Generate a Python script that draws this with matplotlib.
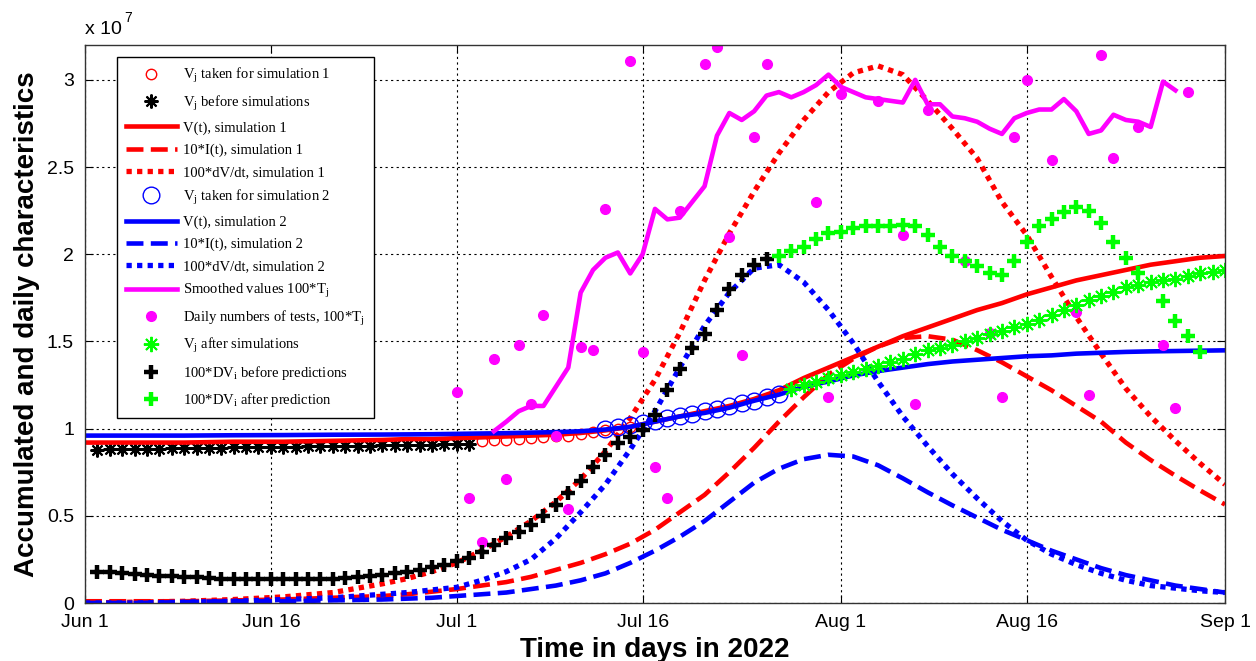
import matplotlib
matplotlib.use('Agg')
import matplotlib.pyplot as plt

plt.rcParams['mathtext.fontset'] = 'custom'
plt.rcParams['mathtext.rm'] = 'Liberation Serif'
plt.rcParams['mathtext.it'] = 'Liberation Serif:italic'
plt.rcParams['mathtext.bf'] = 'Liberation Serif:bold'

# ---------------- data (values in units of 1e7, x in days since Jun 1) --------------
tick_days = [0, 15, 30, 45, 61, 76, 92]
tick_labels = ['Jun 1', 'Jun 16', 'Jul 1', 'Jul 16', 'Aug 1', 'Aug 16', 'Sep 1']
y_ticks = [0, 0.5, 1, 1.5, 2, 2.5, 3]
y_tick_labels = ['0', '0.5', '1', '1.5', '2', '2.5', '3']

# V_j before simulations (black asterisks)
vb_days = list(range(1, 32))
vb_vals = [0.880, 0.881, 0.882, 0.883, 0.884, 0.886, 0.887, 0.888, 0.889, 0.890,
           0.891, 0.892, 0.893, 0.894, 0.895, 0.896, 0.897, 0.898, 0.899, 0.900,
           0.901, 0.902, 0.903, 0.904, 0.905, 0.906, 0.907, 0.908, 0.909, 0.910, 0.912]

# V_j taken for simulation 1 (red circles)
v1_days = list(range(32, 45))
v1_vals = [0.930, 0.935, 0.935, 0.940, 0.945, 0.950, 0.955, 0.960, 0.970, 0.980,
           0.990, 1.000, 1.010]

# V_j taken for simulation 2 (blue circles)
v2_days = list(range(42, 57))
v2_vals = [1.000, 1.010, 1.020, 1.030, 1.045, 1.060, 1.070, 1.085, 1.100, 1.115,
           1.130, 1.145, 1.160, 1.180, 1.200]

# V_j after simulations (green asterisks)
va_days = list(range(57, 93))
va_vals = [1.230, 1.250, 1.270, 1.290, 1.310, 1.325, 1.340, 1.360, 1.380, 1.400,
           1.430, 1.450, 1.465, 1.480, 1.500, 1.520, 1.540, 1.560, 1.580, 1.600,
           1.625, 1.650, 1.680, 1.710, 1.735, 1.760, 1.785, 1.810, 1.825, 1.840,
           1.850, 1.860, 1.875, 1.890, 1.900, 1.910]

# model curves
t_model = [0, 4, 8, 12, 16, 20, 24, 26, 28, 30, 32, 34, 36, 38, 40, 42, 44, 46, 48, 50,
           52, 54, 56, 58, 60, 62, 64, 66, 68, 70, 72, 74, 76, 78, 80, 82, 84, 86, 88, 90, 92]
V_sim1 = [0.920, 0.920, 0.920, 0.925, 0.925, 0.930, 0.935, 0.940, 0.940, 0.945,
          0.950, 0.955, 0.960, 0.965, 0.975, 0.990, 1.010, 1.040, 1.070, 1.100,
          1.130, 1.170, 1.220, 1.290, 1.350, 1.410, 1.470, 1.530, 1.580, 1.630,
          1.680, 1.720, 1.770, 1.810, 1.850, 1.880, 1.910, 1.940, 1.960, 1.980, 1.990]
I_sim1 = [0.010, 0.010, 0.010, 0.015, 0.020, 0.030, 0.040, 0.050, 0.065, 0.080,
          0.100, 0.120, 0.150, 0.190, 0.230, 0.280, 0.340, 0.420, 0.520, 0.620,
          0.750, 0.890, 1.040, 1.180, 1.310, 1.400, 1.470, 1.520, 1.530, 1.510,
          1.450, 1.380, 1.300, 1.220, 1.130, 1.040, 0.920, 0.820, 0.730, 0.645, 0.565]
dV_sim1 = [0.000, 0.005, 0.010, 0.020, 0.035, 0.060, 0.110, 0.140, 0.180, 0.230,
           0.300, 0.380, 0.470, 0.580, 0.710, 0.870, 1.060, 1.280, 1.550, 1.850,
           2.120, 2.360, 2.580, 2.770, 2.930, 3.040, 3.080, 3.030, 2.880, 2.720,
           2.550, 2.300, 2.110, 1.870, 1.640, 1.430, 1.230, 1.070, 0.930, 0.800, 0.680]
V_sim2 = [0.960, 0.960, 0.960, 0.962, 0.963, 0.965, 0.966, 0.967, 0.968, 0.970,
          0.972, 0.974, 0.977, 0.980, 0.985, 0.995, 1.010, 1.040, 1.070, 1.090,
          1.120, 1.160, 1.195, 1.240, 1.270, 1.305, 1.330, 1.350, 1.370, 1.385,
          1.395, 1.405, 1.415, 1.420, 1.430, 1.435, 1.440, 1.443, 1.445, 1.447, 1.449]
I_sim2 = [0.000, 0.000, 0.005, 0.010, 0.010, 0.015, 0.020, 0.025, 0.030, 0.040,
          0.050, 0.060, 0.080, 0.100, 0.130, 0.170, 0.230, 0.300, 0.380, 0.470,
          0.580, 0.690, 0.770, 0.825, 0.850, 0.840, 0.790, 0.715, 0.635, 0.560,
          0.490, 0.420, 0.360, 0.300, 0.250, 0.200, 0.160, 0.130, 0.100, 0.080, 0.060]
dV_sim2 = [0.000, 0.000, 0.005, 0.010, 0.020, 0.030, 0.050, 0.060, 0.075, 0.090,
           0.130, 0.180, 0.250, 0.370, 0.520, 0.680, 0.880, 1.100, 1.350, 1.590,
           1.780, 1.920, 1.940, 1.840, 1.680, 1.490, 1.270, 1.070, 0.900, 0.740,
           0.600, 0.470, 0.360, 0.280, 0.220, 0.170, 0.130, 0.100, 0.085, 0.070, 0.060]

# smoothed tests 100*T_j (magenta line)
ts_days = list(range(33, 89))
ts_vals = [0.985, 1.040, 1.100, 1.130, 1.130, 1.240, 1.350, 1.780, 1.910, 1.980,
           2.010, 1.890, 2.000, 2.260, 2.200, 2.210, 2.300, 2.390, 2.680, 2.810,
           2.770, 2.820, 2.910, 2.930, 2.900, 2.930, 2.970, 3.030, 2.960, 2.930,
           2.900, 2.890, 2.880, 2.870, 3.000, 2.860, 2.860, 2.790, 2.780, 2.760,
           2.720, 2.690, 2.780, 2.810, 2.830, 2.830, 2.890, 2.820, 2.690, 2.710,
           2.800, 2.770, 2.760, 2.730, 2.990, 2.940]

# daily numbers of tests 100*T_j (magenta dots)
td_days = [30, 31, 32, 33, 34, 35, 36, 37, 38, 39, 40, 41, 42, 44, 45, 46, 47, 48,
           50, 51, 52, 53, 54, 55, 59, 60, 61, 64, 66, 67, 68, 71, 73, 74, 75, 76,
           78, 80, 81, 82, 83, 85, 87, 88, 89]
td_vals = [1.21, 0.60, 0.35, 1.40, 0.71, 1.48, 1.14, 1.65, 0.96, 0.54, 1.47, 1.45,
           2.26, 3.11, 1.44, 0.78, 0.60, 2.25, 3.09, 3.19, 2.10, 1.42, 2.67, 3.09,
           2.30, 1.18, 2.92, 2.88, 2.11, 1.14, 2.83, 1.96, 1.55, 1.18, 2.67, 3.00,
           2.54, 1.67, 1.19, 3.14, 2.55, 2.73, 1.48, 1.12, 2.93]

# 100*DV_i before predictions (black plus)
db_days = list(range(1, 56))
db_vals = [0.180, 0.175, 0.170, 0.165, 0.160, 0.155, 0.155, 0.150, 0.150, 0.145,
           0.140, 0.140, 0.135, 0.135, 0.135, 0.135, 0.135, 0.135, 0.140, 0.140,
           0.145, 0.150, 0.155, 0.160, 0.170, 0.180, 0.190, 0.205, 0.220, 0.240,
           0.260, 0.290, 0.330, 0.370, 0.410, 0.450, 0.500, 0.560, 0.630, 0.700,
           0.780, 0.850, 0.920, 0.950, 0.990, 1.080, 1.220, 1.340, 1.460, 1.540,
           1.680, 1.800, 1.880, 1.940, 1.970]

# 100*DV_i after prediction (green plus)
dp_days = [56, 57, 58, 59, 60, 61, 62, 63, 64, 65, 66, 67, 68, 69, 70, 71, 72, 73,
           74, 75, 76, 77, 78, 79, 80, 81, 82, 83, 84, 85, 87, 88, 89, 90]
dp_vals = [1.99, 2.02, 2.04, 2.09, 2.12, 2.13, 2.15, 2.16, 2.16, 2.16, 2.17, 2.16,
           2.11, 2.04, 1.99, 1.96, 1.93, 1.89, 1.88, 1.96, 2.07, 2.16, 2.20, 2.24,
           2.27, 2.25, 2.18, 2.07, 1.98, 1.89, 1.73, 1.62, 1.53, 1.44]

# ---------------- figure -------------------------------------------------------------
W, H = 1256, 661
fig = plt.figure(figsize=(W / 100, H / 100), dpi=100)
ax = fig.add_axes([85 / W, 1 - 603 / H, 1140 / W, 558 / H])

RED, BLUE, MAG, GRN, BLK = (1, 0, 0), (0, 0, 1), (1, 0, 1), (0, 1, 0), (0, 0, 0)
AST = (8, 2, 0)
LW = 3.3
LWD = 3.8

handles = []
h, = ax.plot(v1_days, v1_vals, ls='none', marker='o', ms=7.5, mfc='none', mec=RED, mew=1.0,
             label=r'V$_\mathrm{j}$ taken for simulation 1')
handles.append(h)
h, = ax.plot(vb_days, vb_vals, ls='none', marker=AST, ms=10, mec=BLK, mew=1.5,
             label=r'V$_\mathrm{j}$ before simulations')
handles.append(h)
h, = ax.plot(t_model, V_sim1, color=RED, lw=LW, ls='-', label='V(t), simulation 1')
handles.append(h)
h, = ax.plot(t_model, I_sim1, color=RED, lw=LW, ls='--', label='10*I(t), simulation 1')
handles.append(h)
h, = ax.plot(t_model, dV_sim1, color=RED, lw=LWD, ls=(0, (1, 1)), label='100*dV/dt, simulation 1')
handles.append(h)
h, = ax.plot(v2_days, v2_vals, ls='none', marker='o', ms=12, mfc='none', mec=BLUE, mew=1.0,
             label=r'V$_\mathrm{j}$ taken for simulation 2')
handles.append(h)
h, = ax.plot(t_model, V_sim2, color=BLUE, lw=LW, ls='-', label='V(t), simulation 2')
handles.append(h)
h, = ax.plot(t_model, I_sim2, color=BLUE, lw=LW, ls='--', label='10*I(t), simulation 2')
handles.append(h)
h, = ax.plot(t_model, dV_sim2, color=BLUE, lw=LWD, ls=(0, (1, 1)), label='100*dV/dt, simulation 2')
handles.append(h)
h, = ax.plot(ts_days, ts_vals, color=MAG, lw=LW, ls='-', label=r'Smoothed values 100*T$_\mathrm{j}$')
handles.append(h)
h, = ax.plot(td_days, td_vals, ls='none', marker='o', ms=7, mfc=MAG, mec=MAG,
             label=r'Daily numbers of tests, 100*T$_\mathrm{j}$')
handles.append(h)
h, = ax.plot(va_days, va_vals, ls='none', marker=AST, ms=11, mec=GRN, mew=1.4,
             label=r'V$_\mathrm{j}$ after simulations')
handles.append(h)
h, = ax.plot(db_days, db_vals, ls='none', marker='+', ms=10, mec=BLK, mew=3.2,
             label=r'100*DV$_\mathrm{i}$ before predictions')
handles.append(h)
h, = ax.plot(dp_days, dp_vals, ls='none', marker='+', ms=10, mec=GRN, mew=3.2,
             label=r'100*DV$_\mathrm{i}$ after prediction')
handles.append(h)

ax.set_xlim(0, 92)
ax.set_ylim(0, 3.2)
ax.set_xticks(tick_days)
ax.set_xticklabels(tick_labels, fontsize=14, family='Liberation Sans')
ax.set_yticks(y_ticks)
ax.set_yticklabels(y_tick_labels, fontsize=14, family='Liberation Sans')
ax.tick_params(direction='in', top=True, right=True, length=6, width=0.8, pad=8)
ax.grid(True, color='black', ls=(0, (2, 3)), lw=0.8)
for s in ax.spines.values():
    s.set_linewidth(1.0)
    s.set_color('#333333')

ax.set_xlabel('Time in days in 2022', fontsize=20, fontweight='bold', family='Liberation Sans',
              labelpad=4)
ax.set_ylabel('Accumulated and daily characteristics', fontsize=20, fontweight='bold',
              family='Liberation Sans', labelpad=5)
ax.text(0.0, 1.012, 'x 10', transform=ax.transAxes, fontsize=14, family='Liberation Sans',
        ha='left', va='bottom')
ax.text(0.034, 1.035, '7', transform=ax.transAxes, fontsize=10, family='Liberation Sans',
        ha='left', va='bottom')

leg = ax.legend(handles=handles, loc='upper left',
                bbox_to_anchor=((117 - 85) / 1140, (603 - 57) / 558),
                borderaxespad=0, prop={'family': 'Liberation Serif', 'size': 10.5},
                numpoints=1, handlelength=3.5, handletextpad=0.45, labelspacing=0.6,
                fancybox=False, framealpha=1, edgecolor='black', borderpad=0.6)
leg.get_frame().set_linewidth(1.0)

fig.savefig('out.png', dpi=100)
